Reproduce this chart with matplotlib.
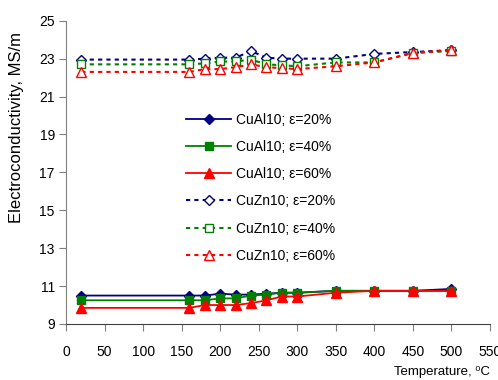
import numpy as np
import matplotlib.pyplot as plt

plt.rcParams['font.family'] = ['Liberation Sans', 'DejaVu Sans']

temp = [20, 160, 180, 200, 220, 240, 260, 280, 300, 350, 400, 450, 500]

al_20 = [10.5, 10.5, 10.5, 10.6, 10.55, 10.55, 10.6, 10.65, 10.65, 10.75, 10.75, 10.75, 10.85]
al_40 = [10.25, 10.25, 10.25, 10.35, 10.35, 10.5, 10.55, 10.65, 10.65, 10.75, 10.75, 10.75, 10.75]
al_60 = [9.85, 9.85, 10.0, 10.0, 10.0, 10.1, 10.25, 10.45, 10.45, 10.65, 10.75, 10.75, 10.75]

zn_20 = [22.95, 22.95, 23.0, 23.05, 23.05, 23.4, 23.05, 23.0, 23.0, 23.0, 23.25, 23.35, 23.45]
zn_40 = [22.7, 22.7, 22.75, 22.85, 22.85, 22.95, 22.7, 22.65, 22.6, 22.8, 22.8, 23.3, 23.4]
zn_60 = [22.3, 22.3, 22.45, 22.45, 22.55, 22.7, 22.55, 22.5, 22.45, 22.6, 22.8, 23.3, 23.45]

labels = ['CuAl10; ε=20%', 'CuAl10; ε=40%', 'CuAl10; ε=60%',
          'CuZn10; ε=20%', 'CuZn10; ε=40%', 'CuZn10; ε=60%']

fig = plt.figure(figsize=(4.98, 3.8), dpi=100)
ax = fig.add_axes([0.1325, 0.1474, 0.8515, 0.798])

ax.plot(temp, al_20, '-', color='#000080', marker='D', ms=5, lw=1.3, label=labels[0])
ax.plot(temp, al_40, '-', color='#008000', marker='s', ms=6, lw=1.3, label=labels[1])
ax.plot(temp, al_60, '-', color='#ff0000', marker='^', ms=7, lw=1.3, label=labels[2])

ax.plot(temp, zn_20, color='#000080', ls=(0, (2, 2)), marker='D', ms=5, mfc='white', lw=1.5, label=labels[3])
ax.plot(temp, zn_40, color='#008000', ls=(0, (2, 2)), marker='s', ms=6, mfc='white', lw=1.5, label=labels[4])
ax.plot(temp, zn_60, color='#ff0000', ls=(0, (2, 2)), marker='^', ms=7, mfc='white', lw=1.5, label=labels[5])

ax.set_xlim(0, 550)
ax.set_ylim(9, 25)
ax.set_xticks(np.arange(0, 551, 50))
ax.set_yticks(np.arange(9, 26, 2))
ax.tick_params(labelsize=10, direction='out', length=5, color='#808080')
ax.tick_params(axis='x', pad=10)
ax.tick_params(axis='y', pad=3)
for s in ['top', 'right']:
    ax.spines[s].set_visible(False)
ax.spines['left'].set_color('#808080')
ax.spines['bottom'].set_color('#404040')

ax.legend(loc='upper left', bbox_to_anchor=(0.271, 0.715), borderaxespad=0,
          frameon=False, fontsize=10, handlelength=3.2, handletextpad=0.35,
          labelspacing=0.95)

fig.text(0.033, 0.665, 'Electroconductivity, MS/m', rotation=90, ha='center', va='center',
         fontsize=12)
fig.text(0.984, 0.005, 'Temperature, ⁰C', ha='right', va='bottom', fontsize=9.5)

fig.savefig('out.png', dpi=100)
